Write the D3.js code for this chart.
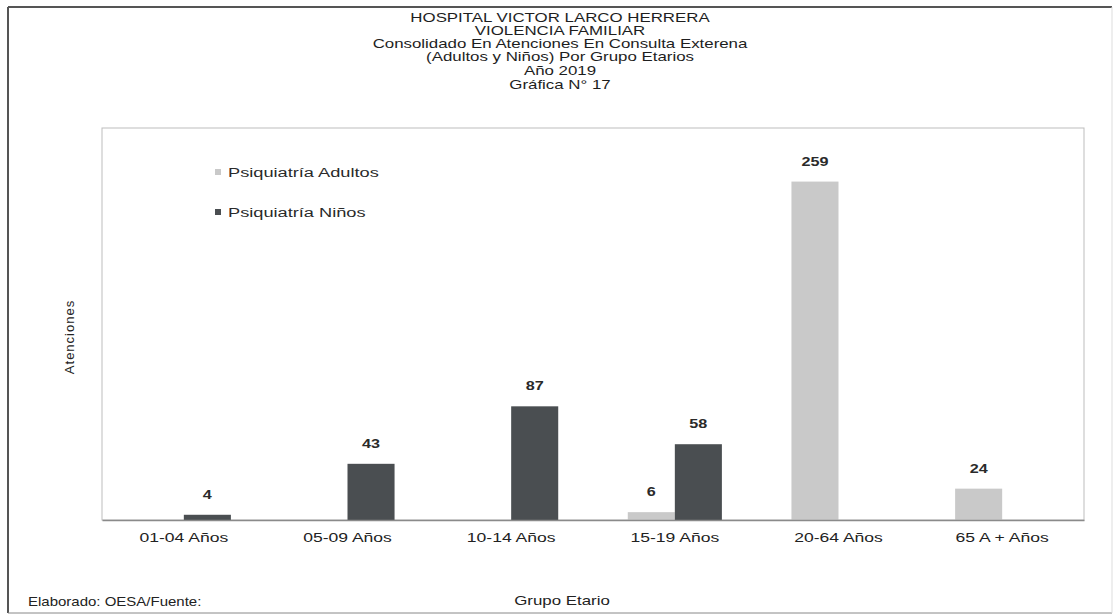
<!DOCTYPE html>
<html>
<head>
<meta charset="utf-8">
<script src="https://cdn.jsdelivr.net/npm/d3@7/dist/d3.min.js"></script>
<style>
  html, body { margin: 0; padding: 0; background: #ffffff; }
  svg { display: block; font-family: Arial, "Liberation Sans", sans-serif; }
</style>
</head>
<body>
<svg id="chart" width="1117" height="616"></svg>
<script>
const titleLines = [
  "HOSPITAL VICTOR LARCO HERRERA",
  "VIOLENCIA FAMILIAR",
  "Consolidado En Atenciones En Consulta Exterena",
  "(Adultos  y Niños) Por Grupo Etarios",
  "Año  2019",
  "Gráfica N° 17"
];
const categories = ["01-04 Años", "05-09 Años", "10-14 Años", "15-19 Años", "20-64 Años", "65 A + Años"];
const seriesNames = ["Psiquiatría Adultos", "Psiquiatría Niños"];
const adultos = [0, 0, 0, 6, 259, 24];
const ninos = [4, 43, 87, 58, 0, 0];
const yMax = 300;

const colors = { "Psiquiatría Adultos": "#c9c9c9", "Psiquiatría Niños": "#4a4e51" };
const SX = 1.35; // horizontal stretch of the scanned text

const svg = d3.select("#chart");
const W = 1117, H = 616;
const plot = { left: 102, right: 1084, top: 128, bottom: 520 };

// outer frame
svg.append("rect").attr("x", 0).attr("y", 0).attr("width", W).attr("height", H).attr("fill", "#ffffff");
svg.append("line").attr("x1", 8).attr("x2", 1112).attr("y1", 7).attr("y2", 7).attr("stroke", "#555").attr("stroke-width", 2);
svg.append("line").attr("x1", 8).attr("x2", 8).attr("y1", 7).attr("y2", 613).attr("stroke", "#555").attr("stroke-width", 2);
svg.append("line").attr("x1", 8).attr("x2", 1112).attr("y1", 613).attr("y2", 613).attr("stroke", "#888").attr("stroke-width", 1);
svg.append("line").attr("x1", 1112).attr("x2", 1112).attr("y1", 7).attr("y2", 613).attr("stroke", "#ddd").attr("stroke-width", 1);

function stretchedText(g, x, y, txt, size, opts = {}) {
  const t = g.append("g").attr("transform", `translate(${x},${y}) scale(${opts.sx || SX},1)`)
    .append("text")
    .attr("x", 0).attr("y", 0)
    .attr("text-anchor", opts.anchor || "middle")
    .attr("font-size", size)
    .attr("font-weight", opts.weight || "normal")
    .attr("fill", opts.fill || "#1e1e1e")
    .text(txt);
  if (opts.ls) t.attr("letter-spacing", opts.ls);
  return t;
}

// title
const titleG = svg.append("g");
const titleY = [22, 35, 48, 61, 75, 89];
titleLines.forEach((l, i) => stretchedText(titleG, 560, titleY[i], l, 12.5));

// scales
const x0 = d3.scaleBand().domain(categories).range([plot.left, plot.right]).paddingInner(0.425).paddingOuter(0.2125);
const x1 = d3.scaleBand().domain(seriesNames).range([0, x0.bandwidth()]);
const y = d3.scaleLinear().domain([0, yMax]).range([plot.bottom, plot.top]);

// plot area border
svg.append("rect").attr("x", plot.left).attr("y", plot.top)
  .attr("width", plot.right - plot.left).attr("height", plot.bottom - plot.top)
  .attr("fill", "none").attr("stroke", "#bdbdbd").attr("stroke-width", 1);

// bars
const rows = categories.map((c, i) => ({ cat: c, vals: [
  { name: seriesNames[0], v: adultos[i] },
  { name: seriesNames[1], v: ninos[i] }
]}));

const groups = svg.append("g").selectAll("g").data(rows).join("g")
  .attr("transform", d => `translate(${x0(d.cat)},0)`);

groups.selectAll("rect").data(d => d.vals.filter(v => v.v > 0)).join("rect")
  .attr("x", d => x1(d.name))
  .attr("y", d => y(d.v))
  .attr("width", x1.bandwidth())
  .attr("height", d => y(0) - y(d.v))
  .attr("fill", d => colors[d.name]);

groups.each(function(d) {
  const g = d3.select(this);
  d.vals.filter(v => v.v > 0).forEach(v => {
    stretchedText(g, x1(v.name) + x1.bandwidth() / 2, y(v.v) - 16, String(v.v), 12, { weight: "bold", fill: "#2a2a2a" });
  });
});

// baseline axis
const xAxis = svg.append("g").attr("transform", `translate(0,${plot.bottom})`)
  .call(d3.axisBottom(x0).tickSize(0).tickFormat(""));
xAxis.select(".domain").attr("stroke", "#8a8a8a").attr("stroke-width", 1.5);

// category labels
const catG = svg.append("g");
categories.forEach(c => stretchedText(catG, x0(c) + x0.bandwidth() / 2, 542, c, 13, { fill: "#222" }));

// legend
const legG = svg.append("g");
const legY = [172, 212];
seriesNames.forEach((s, i) => {
  legG.append("rect").attr("x", 215).attr("y", legY[i] - 3).attr("width", 6).attr("height", 6).attr("fill", colors[s]);
  stretchedText(legG, 228, legY[i] + 5, s, 13.5, { anchor: "start", fill: "#2a2a2a" });
});

// y-axis title
svg.append("text")
  .attr("transform", "translate(74,337) rotate(-90)")
  .attr("text-anchor", "middle")
  .attr("font-size", 13)
  .attr("letter-spacing", 1)
  .attr("fill", "#222")
  .text("Atenciones");

// x-axis title
stretchedText(svg, 562, 605, "Grupo Etario", 12.5, { fill: "#222" });

// source note
stretchedText(svg, 28, 606, "Elaborado: OESA/Fuente:", 12.5, { anchor: "start", fill: "#222", sx: 1.2 });
</script>
</body>
</html>
